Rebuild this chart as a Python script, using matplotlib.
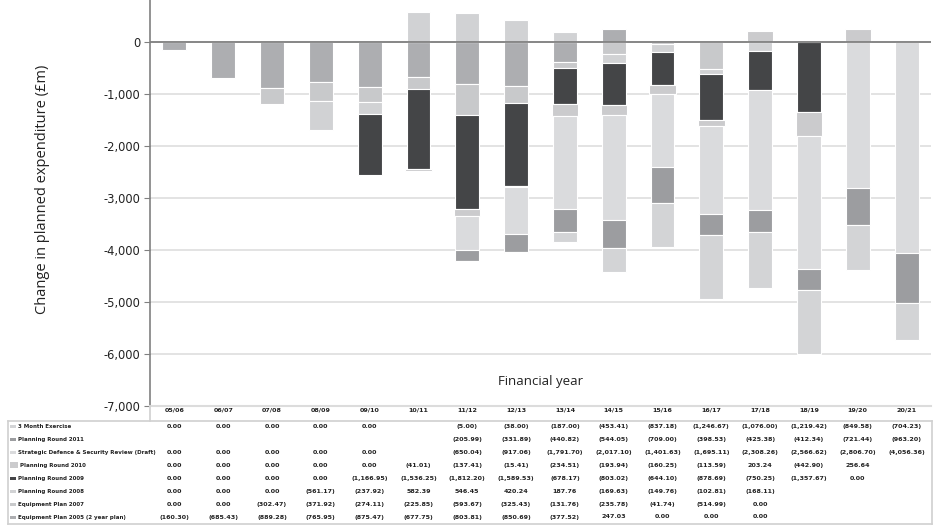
import numpy as np
import matplotlib
matplotlib.use("Agg")
import matplotlib.pyplot as plt
import matplotlib.transforms as mtransforms
from matplotlib.patches import Rectangle
from matplotlib.lines import Line2D

nan = np.nan

# Financial years
categories = ['05/06', '06/07', '07/08', '08/09', '09/10', '10/11', '11/12', '12/13',
              '13/14', '14/15', '15/16', '16/17', '17/18', '18/19', '19/20', '20/21']

# Series values (£m), in stacking order (first = nearest zero)
ep2005 = [-160.30, -685.43, -889.28, -765.95, -875.47, -677.75, -803.81, -850.69,
          -377.52, 247.03, 0.00, 0.00, 0.00, nan, nan, nan]
ep2007 = [0.00, 0.00, -302.47, -371.92, -274.11, -225.85, -593.67, -325.43,
          -131.76, -235.78, -41.74, -514.99, 0.00, nan, nan, nan]
pr2008 = [0.00, 0.00, 0.00, -561.17, -237.92, 582.39, 546.45, 420.24,
          187.76, -169.63, -149.76, -102.81, -168.11, nan, nan, nan]
pr2009 = [0.00, 0.00, 0.00, 0.00, -1166.95, -1536.25, -1812.20, -1589.53,
          -678.17, -803.02, -644.10, -878.69, -750.25, -1357.67, 0.00, nan]
pr2010 = [0.00, 0.00, 0.00, 0.00, 0.00, -41.01, -137.41, -15.41,
          -234.51, -193.94, -160.25, -113.59, 203.24, -442.90, 256.64, nan]
sdsr = [0.00, 0.00, 0.00, 0.00, 0.00, nan, -650.04, -917.06,
        -1791.70, -2017.10, -1401.63, -1695.11, -2308.26, -2566.62, -2806.70, -4056.36]
pr2011 = [nan, nan, nan, nan, nan, nan, -205.99, -331.89,
          -440.82, -544.05, -709.00, -398.53, -425.38, -412.34, -721.44, -963.20]
three_month = [0.00, 0.00, 0.00, 0.00, 0.00, nan, -5.00, -38.00,
               -187.00, -453.41, -837.18, -1246.67, -1076.00, -1219.42, -849.58, -704.23]

series = [
    ("Equipment Plan 2005 (2 year plan)", ep2005, "#adaeb1", 0.49),
    ("Equipment Plan 2007", ep2007, "#c8c9cb", 0.49),
    ("Planning Round 2008", pr2008, "#d1d2d4", 0.49),
    ("Planning Round 2009", pr2009, "#444547", 0.49),
    ("Planning Round 2010", pr2010, "#cbcbcd", 0.54),
    ("Strategic Defence & Security Review (Draft)", sdsr, "#dadbdd", 0.49),
    ("Planning Round 2011", pr2011, "#9c9da0", 0.49),
    ("3 Month Exercise", three_month, "#d3d4d6", 0.49),
]

W, H = 936, 530
fig = plt.figure(figsize=(W / 100, H / 100), dpi=100)
ax_left, ax_right, ax_top, ax_bottom = 150, 931, 0, 406
ax = fig.add_axes([ax_left / W, 1 - ax_bottom / H,
                   (ax_right - ax_left) / W, (ax_bottom - ax_top) / H])

x = np.arange(len(categories))
pos_base = np.zeros(len(categories))
neg_base = np.zeros(len(categories))
for name, vals, color, width in series:
    v = np.nan_to_num(np.array(vals, dtype=float))
    bottoms = np.where(v >= 0, pos_base, neg_base)
    mask = v != 0
    ax.bar(x[mask], v[mask], bottom=bottoms[mask], width=width, color=color,
           edgecolor="white", linewidth=0.8, zorder=3)
    pos_base = pos_base + np.where(v > 0, v, 0)
    neg_base = neg_base + np.where(v < 0, v, 0)

ax.set_xlim(-0.5, len(categories) - 0.5)
ax.set_ylim(-7000, 805)
ax.set_yticks(np.arange(-7000, 1, 1000))
ax.yaxis.set_major_formatter(matplotlib.ticker.FuncFormatter(lambda v, p: f"{v:,.0f}"))
ax.tick_params(axis="y", direction="out", length=4, color="#808080",
               labelsize=8.3, labelcolor="#222222", pad=3)
ax.set_xticks([])
ax.grid(axis="y", color="#e0e0e0", linewidth=1.3, zorder=0)
ax.set_axisbelow(True)
ax.axhline(0, color="#808080", linewidth=1.3, zorder=4)
for s in ["top", "right"]:
    ax.spines[s].set_visible(False)
ax.spines["left"].set_color("#808080")
ax.spines["left"].set_linewidth(1.2)
ax.spines["bottom"].set_color("#dcdcdc")
ax.spines["bottom"].set_linewidth(1.5)

fig.text(43 / W, 1 - 189 / H, "Change in planned expenditure (£m)", rotation=90,
         ha="center", va="center", fontsize=10.5, family="Open Sans", color="#222222")
ax.text(0.5, 1 - 382 / 406, "Financial year", transform=ax.transAxes, ha="center",
        va="center", fontsize=9.5, family="Open Sans", color="#222222")

# Data table under the chart
trans = mtransforms.blended_transform_factory(ax.transData, fig.transFigure)
tfont = dict(family="DejaVu Sans", fontsize=4.6, color="#222222", fontweight="bold")
lfont = dict(family="DejaVu Sans", fontsize=3.95, color="#222222", fontweight="bold")


def fmt(v):
    if np.isnan(v):
        return ""
    if v < 0:
        return f"({abs(v):,.2f})"
    return f"{v:,.2f}"


for i, c in enumerate(categories):
    ax.text(i, 1 - 410 / H, c, transform=trans, ha="center", va="center", **tfont)

row_y0, row_h = 426.7, 12.9
for r, (name, vals, color, width) in enumerate(reversed(series)):
    yy = row_y0 + r * row_h
    big = name == "Planning Round 2010"
    sw, sh = (8, 6) if big else (6, 3)
    fig.add_artist(Rectangle((10 / W, 1 - (yy + sh / 2) / H), sw / W, sh / H,
                             transform=fig.transFigure, facecolor=color, edgecolor="none"))
    fig.text(18 / W if not big else 20 / W, 1 - yy / H, name,
             ha="left", va="center", **lfont)
    for i, v in enumerate(vals):
        ax.text(i, 1 - yy / H, fmt(v), transform=trans, ha="center", va="center", **tfont)

box_top, box_bot, box_l, box_r = 420.5, 524, 8, 932
lc = "#d0d0d0"
for (x0, y0, x1, y1) in [(box_l, box_top, box_r, box_top), (box_l, box_bot, box_r, box_bot),
                         (box_l, box_top, box_l, box_bot), (box_r, box_top, box_r, box_bot),
                         (ax_left, ax_bottom, ax_left, box_top)]:
    fig.add_artist(Line2D([x0 / W, x1 / W], [1 - y0 / H, 1 - y1 / H],
                          transform=fig.transFigure, color=lc, linewidth=1.2))

fig.savefig("out.png", dpi=100)
